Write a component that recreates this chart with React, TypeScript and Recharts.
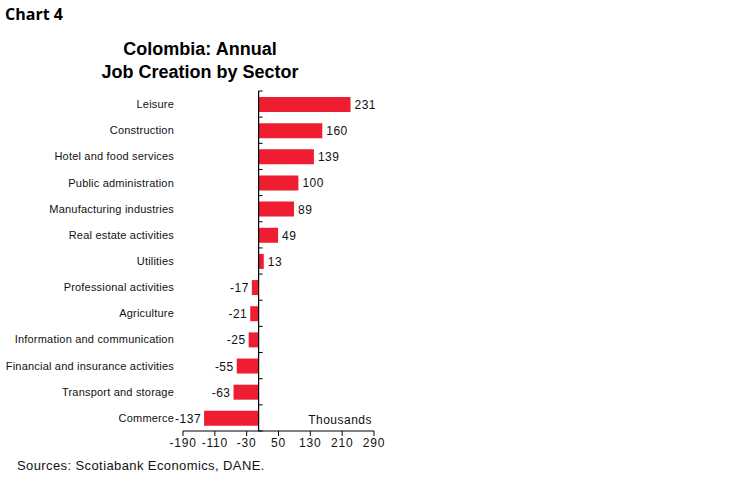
import React from "react";
import {
  BarChart, Bar, XAxis, YAxis, ReferenceLine, LabelList, Cell,
} from "recharts";

const sectors = [
  "Leisure",
  "Construction",
  "Hotel and food services",
  "Public administration",
  "Manufacturing industries",
  "Real estate activities",
  "Utilities",
  "Professional activities",
  "Agriculture",
  "Information and communication",
  "Financial and insurance activities",
  "Transport and storage",
  "Commerce",
];
const jobs = [231, 160, 139, 100, 89, 49, 13, -17, -21, -25, -55, -63, -137];
const xTicks = [-190, -110, -30, 50, 130, 210, 290];

const data = sectors.map((sector, i) => ({ sector, value: jobs[i] }));

// plot box (absolute px in the 748x483 svg)
const LEFT = 183;
const RIGHT = 374;
const TOP = 91;
const BOTTOM = 431;
const BAND = (BOTTOM - TOP) / sectors.length;
const ZERO_X = LEFT + ((0 - xTicks[0]) / (xTicks[xTicks.length - 1] - xTicks[0])) * (RIGHT - LEFT);
const RED = "#EE1D31";
const FONT = "'Liberation Sans', Arial, sans-serif";

function SectorTick(props: any) {
  const { y, payload, index } = props;
  return (
    <g>
      <text x={174} y={y} dy={4} textAnchor="end" fontSize={11} fill="#111" fontFamily={FONT} letterSpacing={0.2}>
        {payload.value}
      </text>
      <line x1={ZERO_X} x2={ZERO_X + 4} y1={y - BAND / 2} y2={y - BAND / 2} stroke="#000" />
      {index === sectors.length - 1 && (
        <line x1={ZERO_X} x2={ZERO_X + 4} y1={y + BAND / 2} y2={y + BAND / 2} stroke="#000" />
      )}
    </g>
  );
}

function ValueLabel(props: any) {
  const { x, y, width, height, value } = props;
  const neg = value < 0;
  const end = x + width;
  return (
    <text
      x={neg ? Math.min(x, end) - 3 : Math.max(x, end) + 4}
      y={y + height / 2}
      dy={4.5}
      textAnchor={neg ? "end" : "start"}
      fontSize={12}
      fill="#111"
      fontFamily={FONT}
      letterSpacing={0.5}
    >
      {neg ? `-${Math.abs(value)}` : value}
    </text>
  );
}

export default function App() {
  return (
    <div style={{ position: "absolute", left: 0, top: 0, width: 748, height: 483, background: "#fff" }}>
      <div style={{ position: "absolute", left: 5, top: 3, fontFamily: "'Open Sans', sans-serif", fontWeight: 700, fontSize: 16, color: "#000" }}>
        Chart 4
      </div>
      <div style={{ position: "absolute", left: 50, width: 300, top: 38, textAlign: "center", fontFamily: FONT, fontWeight: 700, fontSize: 18, lineHeight: "23px", color: "#000" }}>
        Colombia: Annual
        <br />
        Job Creation by Sector
      </div>
      <BarChart
        width={748}
        height={483}
        data={data}
        layout="vertical"
        margin={{ left: 0, right: 748 - RIGHT, top: TOP, bottom: 22 }}
        barSize={15}
      >
        <XAxis
          type="number"
          domain={[xTicks[0], xTicks[xTicks.length - 1]]}
          ticks={xTicks}
          height={30}
          interval={0}
          axisLine={{ stroke: "#000" }}
          tickLine={{ stroke: "#000" }}
          tickSize={5}
          tick={{ fill: "#111", fontSize: 12, fontFamily: FONT, letterSpacing: 0.8 }}
          tickFormatter={(v: number) => (v < 0 ? `-${Math.abs(v)}` : `${v}`)}
        />
        <YAxis
          type="category"
          dataKey="sector"
          width={LEFT}
          axisLine={false}
          tickLine={false}
          interval={0}
          tick={<SectorTick />}
        />
        <ReferenceLine x={0} stroke="#000" strokeWidth={1.2} />
        <Bar dataKey="value" fill={RED} isAnimationActive={false}>
          {data.map((d) => (
            <Cell key={d.sector} fill={RED} />
          ))}
          <LabelList dataKey="value" content={<ValueLabel />} />
        </Bar>
        <text x={372} y={424} textAnchor="end" fontSize={12} fill="#111" fontFamily={FONT} letterSpacing={0.5}>
          Thousands
        </text>
      </BarChart>
      <div style={{ position: "absolute", left: 17, top: 458, fontFamily: FONT, fontSize: 13, letterSpacing: 0.4, color: "#111" }}>
        Sources: Scotiabank Economics, DANE.
      </div>
    </div>
  );
}
